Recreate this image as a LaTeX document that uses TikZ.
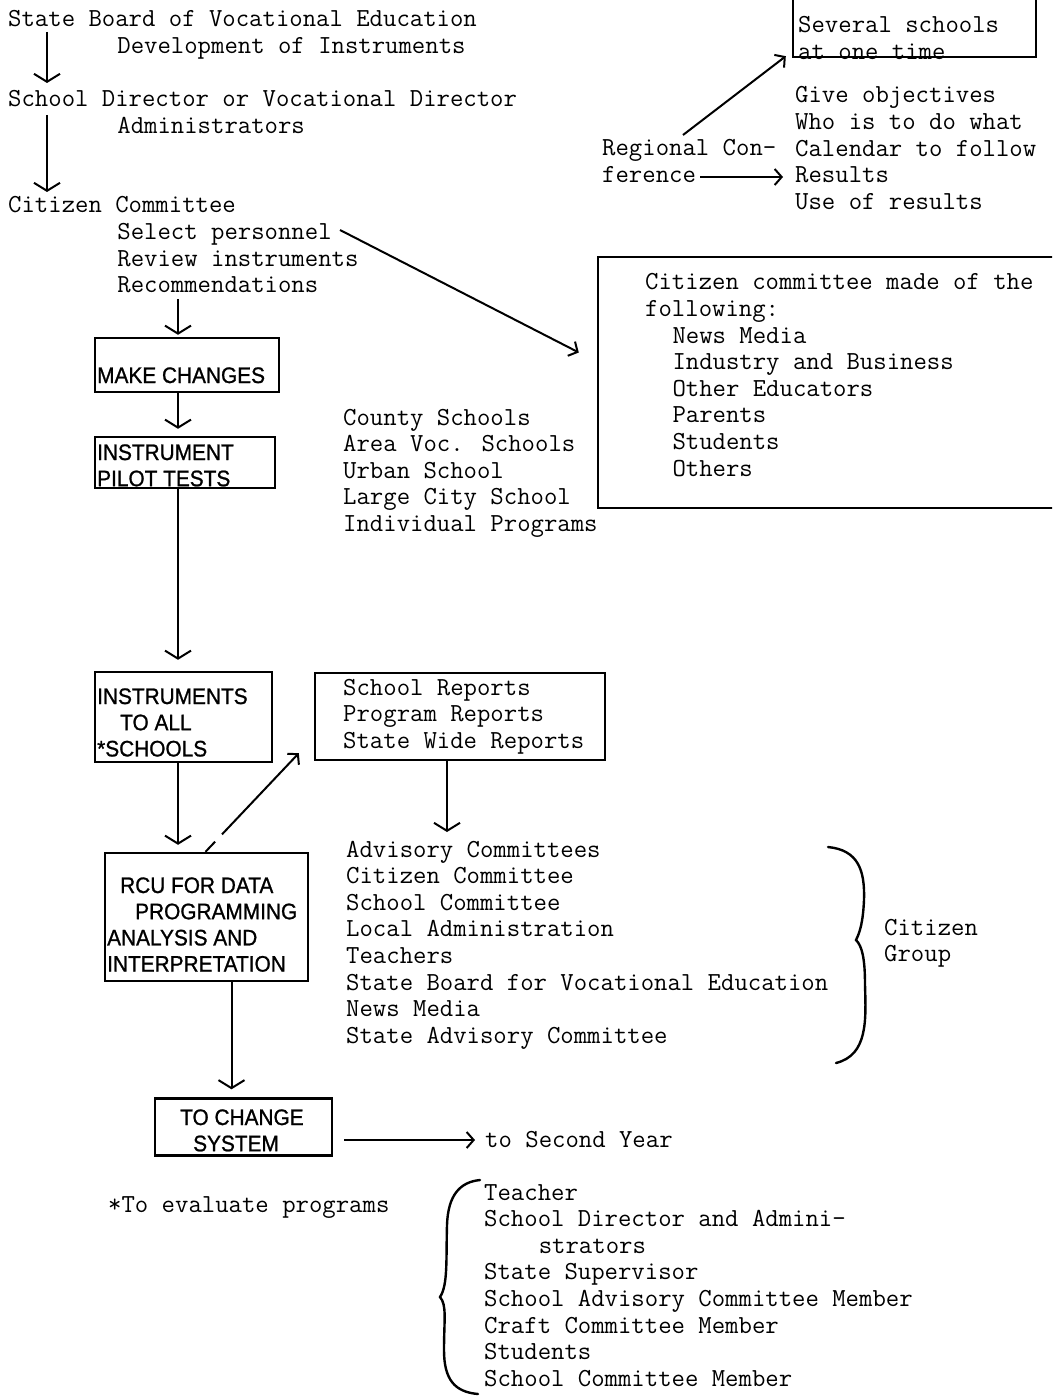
\documentclass[tikz,border=0pt]{standalone}
\usepackage{fontspec}
\usetikzlibrary{arrows.meta}
\newfontfamily\capfam{Liberation Sans}[FakeStretch=0.93,FakeBold=1]
\newcommand\twfont{\fontsize{26}{26.6}\selectfont\ttfamily\addfontfeatures{FakeBold=2.5}}
\newcommand\capfont{\fontsize{22.4}{26.2}\selectfont\capfam}
\newcommand\ind[1]{\hspace*{#1\dimexpr13.65pt\relax}}
% multi-line text as a top-aligned column: the base anchor is the first baseline
\newcommand\ml[1]{\begin{tabular}[t]{@{}l@{}}#1\end{tabular}}
\tikzset{
  tw/.style={font=\twfont, inner sep=0pt, anchor=base west},
  boxtxt/.style={font=\capfont, inner sep=0pt, anchor=base west},
  bx/.style={draw, line width=2.4pt, inner sep=0pt},
  flow/.style={line width=2pt, -{Straight Barb[length=8pt,width=26pt]}},
  smallarr/.style={line width=2pt, -{Straight Barb[length=7pt,width=16pt]}},
  brace/.style={line width=2.4pt, line cap=round},
}
\begin{document}
\begin{tikzpicture}[x=1pt,y=-1pt]
\useasboundingbox (0,0) rectangle (1052,1396);
\clip (0,0) rectangle (1052,1396);
\fill[white] (0,0) rectangle (1052,1396);

% left column: the sequence of bodies
\node[tw] (sbve) at (8,27) {\ml{State Board of Vocational Education\\\ind{8}Development of Instruments}};
\node[tw] (sdir) at (8,107) {\ml{School Director or Vocational Director\\\ind{8}Administrators}};
\node[tw] (citc) at (8,213) {\ml{Citizen Committee\\\ind{8}Select personnel\\\ind{8}Review instruments\\\ind{8}Recommendations}};

% flow boxes
\node[bx, minimum width=184pt, minimum height=54pt] (mk) at (187,365) {};
\node[boxtxt] (mkt) at (97,383) {MAKE CHANGES};
\node[bx, minimum width=180pt, minimum height=51pt] (ipt) at (185,462.5) {};
\node[boxtxt] (iptt) at (97,460) {\ml{INSTRUMENT\\PILOT TESTS}};
\node[bx, minimum width=177pt, minimum height=90pt] (its) at (183.5,717) {};
\node[boxtxt] (itst) at (97,704) {\ml{INSTRUMENTS\\\hspace*{23pt}TO ALL\\{*}SCHOOLS}};
\node[bx, minimum width=203pt, minimum height=128pt] (rcu) at (206.5,917) {};
\node[boxtxt] (rcut) at (107,893) {\ml{\hspace*{13pt}RCU FOR DATA\\\hspace*{28pt}PROGRAMMING\\ANALYSIS AND\\INTERPRETATION}};
\node[bx, minimum width=177pt, minimum height=57pt] (tcs) at (243.5,1127) {};
\node[boxtxt] (tcst) at (180,1125) {\ml{TO CHANGE\\\hspace*{13pt}SYSTEM}};

% middle texts
\node[tw] (sites) at (343,425) {\ml{County Schools\\Area Voc. Schools\\Urban School\\Large City School\\Individual Programs}};
\node[bx, minimum width=290pt, minimum height=87pt] (rep) at (460,716.5) {};
\node[tw] (rept) at (343,695) {\ml{School Reports\\Program Reports\\State Wide Reports}};
\node[tw] (adv) at (346,857) {\ml{Advisory Committees\\Citizen Committee\\School Committee\\Local Administration\\Teachers\\State Board for Vocational Education\\News Media\\State Advisory Committee}};
\node[tw] (cgrp) at (884,935) {\ml{Citizen\\Group}};
\node[tw] (sy) at (485,1147) {to Second Year};
\node[tw] (note) at (108,1212) {*To evaluate programs};
\node[tw] (evl) at (484,1200) {\ml{Teacher\\School Director and Admini-\\\ind{4}strators\\State Supervisor\\School Advisory Committee Member\\Craft Committee Member\\Students\\School Committee Member}};

% right-hand column
\node[bx, minimum width=243pt, minimum height=87pt] (sev) at (914.5,13.5) {};
\node[tw] (sevt) at (798,33) {\ml{Several schools\\at one time}};
\node[tw] (reg) at (602,156) {\ml{Regional Con-\\ference}};
\node[tw] (gobj) at (795,103) {\ml{Give objectives\\Who is to do what\\Calendar to follow\\Results\\Use of results}};
\node[bx, minimum width=482pt, minimum height=251pt] (ccb) at (839,382.5) {};
\node[tw] (ccbt) at (645,290) {\ml{Citizen committee made of the\\following:\\\ind{2}News Media\\\ind{2}Industry and Business\\\ind{2}Other Educators\\\ind{2}Parents\\\ind{2}Students\\\ind{2}Others}};

% connectors
\coordinate (c1) at ([shift={(170,86)}]citc.base west);
\coordinate (c2) at ([xshift=-9pt]mk.south);
\coordinate (c3) at ([shift={(101,-25)}]adv.base west);
\draw[flow] ([shift={(39,5)}]sbve.base west) -- ([shift={(39,-24)}]sdir.base west);
\draw[flow] ([shift={(39,8)}]sdir.base west) -- ([shift={(39,-21)}]citc.base west);
\draw[flow, shorten >=2pt] (c1) -- (c1 |- mk.north);
\draw[flow, shorten >=7pt] (c2) -- (c2 |- ipt.north);
\draw[flow, shorten >=11pt] (ipt.south -| c2) -- (its.north -| c2);
\draw[flow, shorten >=7pt] (its.south -| c2) -- (rcu.north -| c2);
\draw[flow, shorten >=8pt] ([xshift=25pt]rcu.south) -- ([xshift=25pt]rcu.south |- tcs.north);
\draw[smallarr, dash pattern=on 14pt off 10pt on 300pt off 0pt] ([xshift=-1pt]rcu.north) -- ([shift={(-15,-8)}]rep.south west);
\draw[flow] (rep.south -| c3) -- (c3);
\draw[smallarr] ([shift={(11,13)}]tcs.east) -- ([shift={(-10,-7)}]sy.base west);
\draw[smallarr] ([shift={(332,17)}]citc.base west) -- ([shift={(-18,-30)}]ccb.west);
\draw[smallarr] ([shift={(81,-21)}]reg.base west) -- ([shift={(-6,-2)}]sev.south west);
\draw[smallarr] ([shift={(98,21)}]reg.base west) -- ([shift={(-12,74)}]gobj.base west);

% braces
\draw[brace] (828,847) .. controls (858,850) and (865,870) .. (864,900)
  .. controls (863,922) and (860,932) .. (856,940)
  .. controls (862,946) and (865,958) .. (865,985)
  .. controls (866,1020) and (868,1055) .. (836,1063);
\draw[brace] (480,1180) .. controls (460,1182) and (448,1195) .. (447,1225)
  .. controls (446,1260) and (448,1285) .. (440,1297)
  .. controls (447,1305) and (444,1320) .. (444,1350)
  .. controls (444,1380) and (455,1392) .. (478,1394);
\end{tikzpicture}
\end{document}
